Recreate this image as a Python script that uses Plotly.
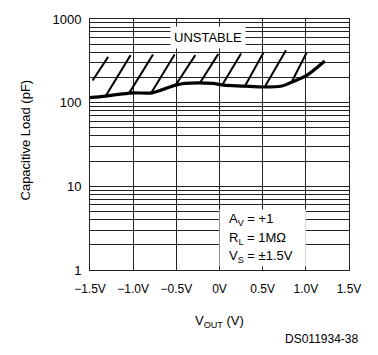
import plotly.graph_objects as go
import math

# Curve: stability boundary (V_OUT in V, capacitive load in pF)
curve_x = [-1.5, -1.32, -1.01, -0.78, -0.51, -0.40, -0.08, 0.05, 0.28, 0.51, 0.72, 0.86, 1.01, 1.22]
curve_y = [115, 120, 131, 131, 162, 170, 170, 162, 158, 154, 158, 180, 212, 315]

# Hatch segments (bottom point -> top point)
hatch_x0 = [-1.47, -1.32, -1.045, -0.79, -0.515, -0.225, 0.04, 0.30, 0.53, 0.84]
hatch_y0 = [184, 119, 131, 131, 158, 173, 168, 162, 158, 180]
hatch_x1 = [-1.29, -1.03, -0.77, -0.52, -0.28, -0.015, 0.25, 0.51, 0.77, 1.01]
hatch_y1 = [353, 370, 377, 377, 370, 380, 387, 398, 423, 398]

x_ticks = [-1.5, -1.0, -0.5, 0.0, 0.5, 1.0, 1.5]
x_labels = ["\u22121.5V", "\u22121.0V", "\u22120.5V", "0V", "0.5V", "1.0V", "1.5V"]

y_grid = [m * 10 ** e for e in range(3) for m in range(1, 10)] + [1000]
y_labels = {1: "1", 10: "10", 100: "100", 1000: "1000"}
y_text = [y_labels.get(v, "") for v in y_grid]

# white box behind the conditions text
box_x = [0.0, 1.0, 1.0, 0.0, 0.0]
box_y = [1.1, 1.1, 5.3, 5.3, 1.1]

FONT = "Liberation Sans"

fig = go.Figure()

fig.add_trace(go.Scatter(x=box_x, y=box_y, mode="lines", fill="toself",
                         fillcolor="white", line=dict(width=0, color="white"),
                         hoverinfo="skip", showlegend=False))

hx, hy = [], []
for a, b, c, d in zip(hatch_x0, hatch_y0, hatch_x1, hatch_y1):
    hx += [a, c, None]
    hy += [b, d, None]
fig.add_trace(go.Scatter(x=hx, y=hy, mode="lines",
                         line=dict(color="black", width=2),
                         showlegend=False, hoverinfo="skip"))

fig.add_trace(go.Scatter(x=curve_x, y=curve_y, mode="lines",
                         line=dict(color="black", width=3.2, shape="spline", smoothing=0.8),
                         showlegend=False))

fig.update_layout(
    width=378, height=355,
    margin=dict(l=90, r=29, t=13, b=85),
    paper_bgcolor="white", plot_bgcolor="white",
    font=dict(family=FONT, size=12, color="black"),
    xaxis=dict(range=[-1.5, 1.5], tickvals=x_ticks, ticktext=x_labels,
               showgrid=True, gridcolor="#222", gridwidth=1,
               showline=True, linecolor="#222", linewidth=1, mirror=True,
               zeroline=False, ticks="", ticklen=0, ticklabelstandoff=8,
               tickfont=dict(size=12)),
    yaxis=dict(type="log", range=[0, 3], tickvals=y_grid, ticktext=y_text,
               showgrid=True, gridcolor="#222", gridwidth=1,
               showline=True, linecolor="#222", linewidth=1, mirror=True,
               zeroline=False, ticks="", ticklen=0, ticklabelstandoff=5,
               tickfont=dict(size=13)),
)

fig.add_annotation(x=-0.13, y=math.log10(600), xref="x", yref="y", text="UNSTABLE",
                   showarrow=False, bgcolor="white", borderpad=3,
                   font=dict(family=FONT, size=13))

cond = ["A<sub>V</sub> = +1", "R<sub>L</sub> = 1M\u03a9", "V<sub>S</sub> = \u00b11.5V"]
cond_y = [4.0, 2.4, 1.45]
for t, yv in zip(cond, cond_y):
    fig.add_annotation(x=0.09, y=math.log10(yv), xref="x", yref="y", text=t,
                       showarrow=False, xanchor="left", yanchor="middle",
                       font=dict(family=FONT, size=13))

fig.add_annotation(x=0.5, y=-0.206, xref="paper", yref="paper",
                   text="V<sub>OUT</sub> (V)", showarrow=False,
                   xanchor="center", yanchor="middle",
                   font=dict(family=FONT, size=13))
fig.add_annotation(x=-0.25, y=0.517, xref="paper", yref="paper",
                   text="Capacitive Load (pF)", textangle=-90, showarrow=False,
                   xanchor="center", yanchor="middle",
                   font=dict(family=FONT, size=13))
fig.add_annotation(x=1.042, y=-0.276, xref="paper", yref="paper",
                   text="DS011934-38", showarrow=False,
                   xanchor="right", yanchor="middle",
                   font=dict(family=FONT, size=12))

fig.write_html("out.html")
